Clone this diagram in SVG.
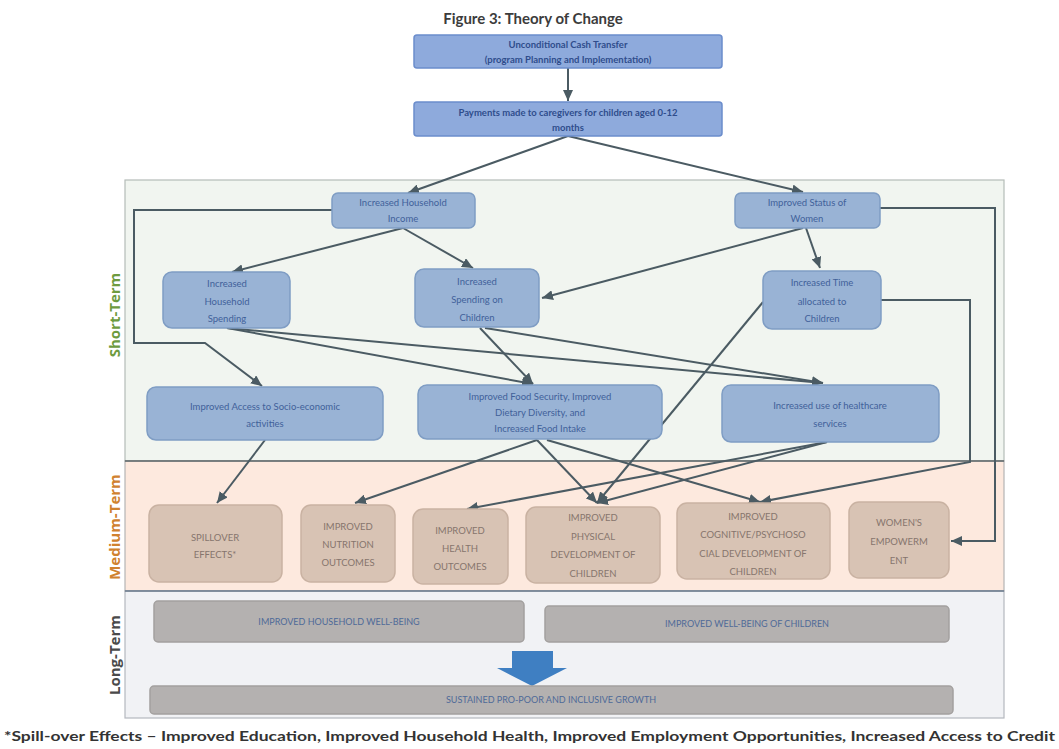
<svg xmlns="http://www.w3.org/2000/svg" width="1059" height="749" viewBox="0 0 1059 749">
  <style>
    .t { font-family: Lato, "Open Sans", "Liberation Sans", sans-serif; text-anchor: middle; }
    .top { fill: #8eaadc; stroke: #6b8dcc; stroke-width: 1.5; }
    .top-t { fill: #2f4d8c; font-size: 9.5px; font-weight: bold; }
    .st { fill: #99b3d5; stroke: #7f9dc4; stroke-width: 1.5; }
    .st-t { fill: #41619a; font-size: 9.5px; }
    .mt { fill: #d8c3b4; stroke: #c9b2a2; stroke-width: 1.5; }
    .mt-t { fill: #86756d; font-size: 9.5px; }
    .lt { fill: #b4b1b0; stroke: #a3a09f; stroke-width: 1.5; }
    .lt-t { fill: #4f6a98; font-size: 9px; }
    .conn { fill: none; stroke: #4b5b63; stroke-width: 2; marker-end: url(#ah); }
    .phase { font-family: "Open Sans", "Liberation Sans", sans-serif; font-size: 15px; font-weight: bold; text-anchor: middle; }
  </style>
  <defs>
    <marker id="ah" markerUnits="userSpaceOnUse" markerWidth="12" markerHeight="10" refX="11" refY="5" orient="auto">
      <path d="M0,0 L11,5 L0,10 Z" fill="#4b5b63"/>
    </marker>
  </defs>

  <rect width="1059" height="749" fill="#ffffff"/>

  <!-- phase bands -->
  <g id="bands">
    <rect x="125" y="180" width="879" height="281" fill="#f1f5f0" stroke="#b5bcb8" stroke-width="1.2"/>
    <rect x="125" y="461" width="879" height="130" fill="#fde9de" stroke="#b5b5b5" stroke-width="1.2"/>
    <rect x="125" y="591" width="879" height="127" fill="#f1f2f5" stroke="#b5b8be" stroke-width="1.2"/>
    <line x1="125" y1="461" x2="1004" y2="461" stroke="#5d6669" stroke-width="1.5"/>
    <line x1="125" y1="591" x2="1004" y2="591" stroke="#6a7a8c" stroke-width="1.5"/>
    <text class="phase" transform="translate(120,315) rotate(-90)" fill="#6e9b3f">Short-Term</text>
    <text class="phase" transform="translate(120,527) rotate(-90)" fill="#d0822f">Medium-Term</text>
    <text class="phase" transform="translate(120,655) rotate(-90)" fill="#4a4a4a">Long-Term</text>
  </g>

  <text x="533" y="24" font-family="Lato, 'Open Sans', 'Liberation Sans', sans-serif" font-size="15" font-weight="bold" fill="#3c3c3c" text-anchor="middle">Figure 3: Theory of Change</text>

  <!-- connectors -->
  <g id="connectors">
    <path class="conn" d="M568,68 V101"/>
    <path class="conn" d="M568,136 L408,193"/>
    <path class="conn" d="M568,136 L803,192"/>
    <path class="conn" d="M332,210 H134 V343 H205 L262,386"/>
    <path class="conn" d="M403,228 L232,272"/>
    <path class="conn" d="M403,228 L473,268"/>
    <path class="conn" d="M803,228 L542,298"/>
    <path class="conn" d="M806,228 L820,268"/>
    <path class="conn" d="M880,208 H995 V541 H951"/>
    <path class="conn" d="M881,300 H970 V462 L760,502"/>
    <path class="conn" d="M763,302 L597,503"/>
    <path class="conn" d="M227,328 L533,384"/>
    <path class="conn" d="M227,328 L823,383"/>
    <path class="conn" d="M480,328 L533,384"/>
    <path class="conn" d="M485,328 L823,383"/>
    <path class="conn" d="M265,440 L217,503"/>
    <path class="conn" d="M537,440 L355,503"/>
    <path class="conn" d="M537,440 L597,503"/>
    <path class="conn" d="M547,440 L760,502"/>
    <path class="conn" d="M827,442 L467,509"/>
    <path class="conn" d="M827,442 L597,503"/>
  </g>

  <!-- programme boxes -->
  <g id="n-uct">
    <rect class="top" x="414" y="35" width="308" height="33" rx="3"/>
    <text class="t top-t" x="568" y="48">Unconditional Cash Transfer</text>
    <text class="t top-t" x="568" y="63">(program Planning and Implementation)</text>
  </g>
  <g id="n-payments">
    <rect class="top" x="414" y="102" width="308" height="34" rx="3"/>
    <text class="t top-t" x="568" y="116">Payments made to caregivers for children aged 0-12</text>
    <text class="t top-t" x="568" y="131">months</text>
  </g>

  <!-- short-term -->
  <g id="n-hh-income">
    <rect class="st" x="332" y="193" width="143" height="35" rx="6"/>
    <text class="t st-t" x="403" y="206">Increased Household</text>
    <text class="t st-t" x="403" y="222">Income</text>
  </g>
  <g id="n-status-women">
    <rect class="st" x="735" y="193" width="145" height="35" rx="6"/>
    <text class="t st-t" x="807" y="206">Improved Status of</text>
    <text class="t st-t" x="807" y="222">Women</text>
  </g>
  <g id="n-hh-spending">
    <rect class="st" x="163" y="272" width="127" height="56" rx="9"/>
    <text class="t st-t" x="227" y="287">Increased</text>
    <text class="t st-t" x="227" y="305">Household</text>
    <text class="t st-t" x="227" y="322">Spending</text>
  </g>
  <g id="n-spending-children">
    <rect class="st" x="415" y="269" width="124" height="58" rx="9"/>
    <text class="t st-t" x="477" y="285">Increased</text>
    <text class="t st-t" x="477" y="303">Spending on</text>
    <text class="t st-t" x="477" y="321">Children</text>
  </g>
  <g id="n-time-children">
    <rect class="st" x="763" y="271" width="118" height="58" rx="9"/>
    <text class="t st-t" x="822" y="286">Increased Time</text>
    <text class="t st-t" x="822" y="305">allocated to</text>
    <text class="t st-t" x="822" y="322">Children</text>
  </g>
  <g id="n-access">
    <rect class="st" x="147" y="387" width="236" height="53" rx="9"/>
    <text class="t st-t" x="265" y="410">Improved Access to Socio-economic</text>
    <text class="t st-t" x="265" y="427">activities</text>
  </g>
  <g id="n-food">
    <rect class="st" x="418" y="385" width="244" height="54" rx="9"/>
    <text class="t st-t" x="540" y="400">Improved Food Security, Improved</text>
    <text class="t st-t" x="540" y="416">Dietary Diversity, and</text>
    <text class="t st-t" x="540" y="432">Increased Food Intake</text>
  </g>
  <g id="n-healthcare">
    <rect class="st" x="722" y="385" width="217" height="57" rx="9"/>
    <text class="t st-t" x="830" y="409">Increased use of healthcare</text>
    <text class="t st-t" x="830" y="427">services</text>
  </g>

  <!-- medium-term -->
  <g id="n-spillover">
    <rect class="mt" x="149" y="505" width="133" height="77" rx="10"/>
    <text class="t mt-t" x="215" y="541">SPILLOVER</text>
    <text class="t mt-t" x="215" y="558">EFFECTS*</text>
  </g>
  <g id="n-nutrition">
    <rect class="mt" x="301" y="505" width="94" height="77" rx="10"/>
    <text class="t mt-t" x="348" y="530">IMPROVED</text>
    <text class="t mt-t" x="348" y="548">NUTRITION</text>
    <text class="t mt-t" x="348" y="566">OUTCOMES</text>
  </g>
  <g id="n-health">
    <rect class="mt" x="413" y="509" width="95" height="75" rx="10"/>
    <text class="t mt-t" x="460" y="534">IMPROVED</text>
    <text class="t mt-t" x="460" y="552">HEALTH</text>
    <text class="t mt-t" x="460" y="570">OUTCOMES</text>
  </g>
  <g id="n-physical">
    <rect class="mt" x="526" y="507" width="134" height="76" rx="10"/>
    <text class="t mt-t" x="593" y="521">IMPROVED</text>
    <text class="t mt-t" x="593" y="540">PHYSICAL</text>
    <text class="t mt-t" x="593" y="558">DEVELOPMENT OF</text>
    <text class="t mt-t" x="593" y="577">CHILDREN</text>
  </g>
  <g id="n-cognitive">
    <rect class="mt" x="677" y="503" width="153" height="76" rx="10"/>
    <text class="t mt-t" x="753" y="520">IMPROVED</text>
    <text class="t mt-t" x="753" y="538">COGNITIVE/PSYCHOSO</text>
    <text class="t mt-t" x="753" y="557">CIAL DEVELOPMENT OF</text>
    <text class="t mt-t" x="753" y="575">CHILDREN</text>
  </g>
  <g id="n-women-empowerment">
    <rect class="mt" x="849" y="502" width="100" height="76" rx="10"/>
    <text class="t mt-t" x="899" y="526">WOMEN'S</text>
    <text class="t mt-t" x="899" y="545">EMPOWERM</text>
    <text class="t mt-t" x="899" y="564">ENT</text>
  </g>

  <!-- long-term -->
  <g id="n-hh-wellbeing">
    <rect class="lt" x="154" y="601" width="370" height="41" rx="4"/>
    <text class="t lt-t" x="339" y="625">IMPROVED HOUSEHOLD WELL-BEING</text>
  </g>
  <g id="n-child-wellbeing">
    <rect class="lt" x="545" y="606" width="404" height="36" rx="4"/>
    <text class="t lt-t" x="747" y="627">IMPROVED WELL-BEING OF CHILDREN</text>
  </g>
  <g id="n-growth-arrow">
    <path d="M512,651 H553 V668 H567 L532,686 L497,668 H512 Z" fill="#3f7fc2"/>
  </g>
  <g id="n-growth">
    <rect class="lt" x="150" y="686" width="803" height="28" rx="4"/>
    <text class="t lt-t" x="551" y="703">SUSTAINED PRO-POOR AND INCLUSIVE GROWTH</text>
  </g>

  <text x="4" y="741" font-family="Lato, 'Open Sans', 'Liberation Sans', sans-serif" font-size="14" font-weight="bold" fill="#333333" textLength="1051" lengthAdjust="spacingAndGlyphs">*Spill-over Effects – Improved Education, Improved Household Health, Improved Employment Opportunities, Increased Access to Credit</text>
</svg>
